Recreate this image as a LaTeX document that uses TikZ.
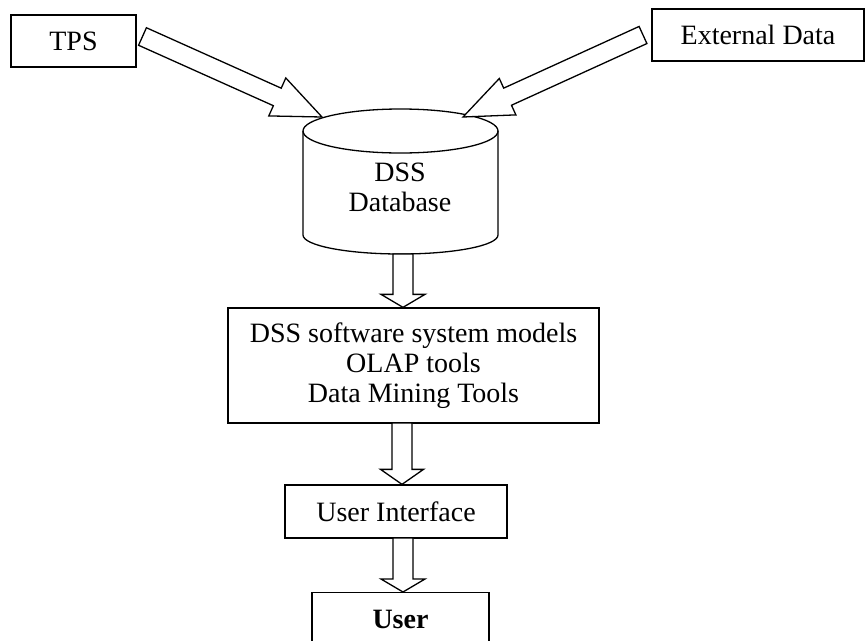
\documentclass[tikz,border=0pt]{standalone}
\usepackage{fontspec}
\setmainfont{Liberation Serif}
\usetikzlibrary{calc}
\tikzset{
  box/.style={draw, line width=1.3pt, inner sep=0pt, font=\fontsize{28}{30}\selectfont, align=center},
  fat/.style={draw, line width=1.3pt, fill=white, line join=miter},
  lbl/.style={font=\fontsize{28}{30}\selectfont, align=center, inner sep=0pt},
  cyl/.style={draw, line width=1.3pt}
}
\newcommand{\fatarrow}[5]{%
  \draw[fat] let \p1=(#1), \p2=(#2), \n1={atan2(\y2-\y1,\x2-\x1)} in
    ($(\p1)+(\n1+90:#3)$) -- ($(\p2)+(\n1+180:#5)+(\n1+90:#3)$)
    -- ($(\p2)+(\n1+180:#5)+(\n1+90:#4)$) -- (\p2)
    -- ($(\p2)+(\n1+180:#5)+(\n1-90:#4)$) -- ($(\p2)+(\n1+180:#5)+(\n1-90:#3)$)
    -- ($(\p1)+(\n1-90:#3)$) -- cycle;}
\begin{document}
\begin{tikzpicture}[x=1pt,y=-1pt]
\useasboundingbox (0,0) rectangle (866,640);
% boxes
\node[box, minimum width=125pt, minimum height=52pt] (tps) at (73.5,41) {TPS};
\node[box, minimum width=212pt, minimum height=52pt] (ext) at (758,35) {External Data};
\node[box, minimum width=371pt, minimum height=115pt] (dss) at (413.5,365.5) {DSS software system models\\OLAP tools\\Data Mining Tools};
\node[box, minimum width=222pt, minimum height=53pt] (ui) at (396,511.5) {User Interface};
\node[box, minimum width=177pt, minimum height=54pt, anchor=north, font=\fontsize{28}{30}\selectfont\bfseries] (user) at (400.5,592) {User};
% cylinder
\draw[cyl] (400.5,131) ellipse [x radius=97.5pt, y radius=22pt];
\draw[cyl] (303,131) -- (303,235) arc[start angle=180, end angle=360, x radius=97.5pt, y radius=19pt] -- (498,131);
\node[lbl] (db) at (400,187) {DSS\\Database};
% arrow end points
\coordinate (a1s) at (142.5,36.5);
\coordinate (a1e) at (322,117);
\coordinate (a2s) at (643,35);
\coordinate (a2e) at (463,117);
\coordinate (a3s) at (403,254);
\coordinate (a4s) at (402,423);
\coordinate (a5s) at (403,538);
% block arrows
\fatarrow{a1s}{a1e}{9.6pt}{20.8pt}{49pt}
\fatarrow{a2s}{a2e}{9.4pt}{20pt}{49pt}
\fatarrow{a3s}{dss.north -| a3s}{10pt}{22pt}{13pt}
\fatarrow{a4s}{ui.north -| a4s}{10pt}{21.5pt}{15pt}
\fatarrow{a5s}{user.north -| a5s}{10pt}{22pt}{13pt}
\end{tikzpicture}
\end{document}
